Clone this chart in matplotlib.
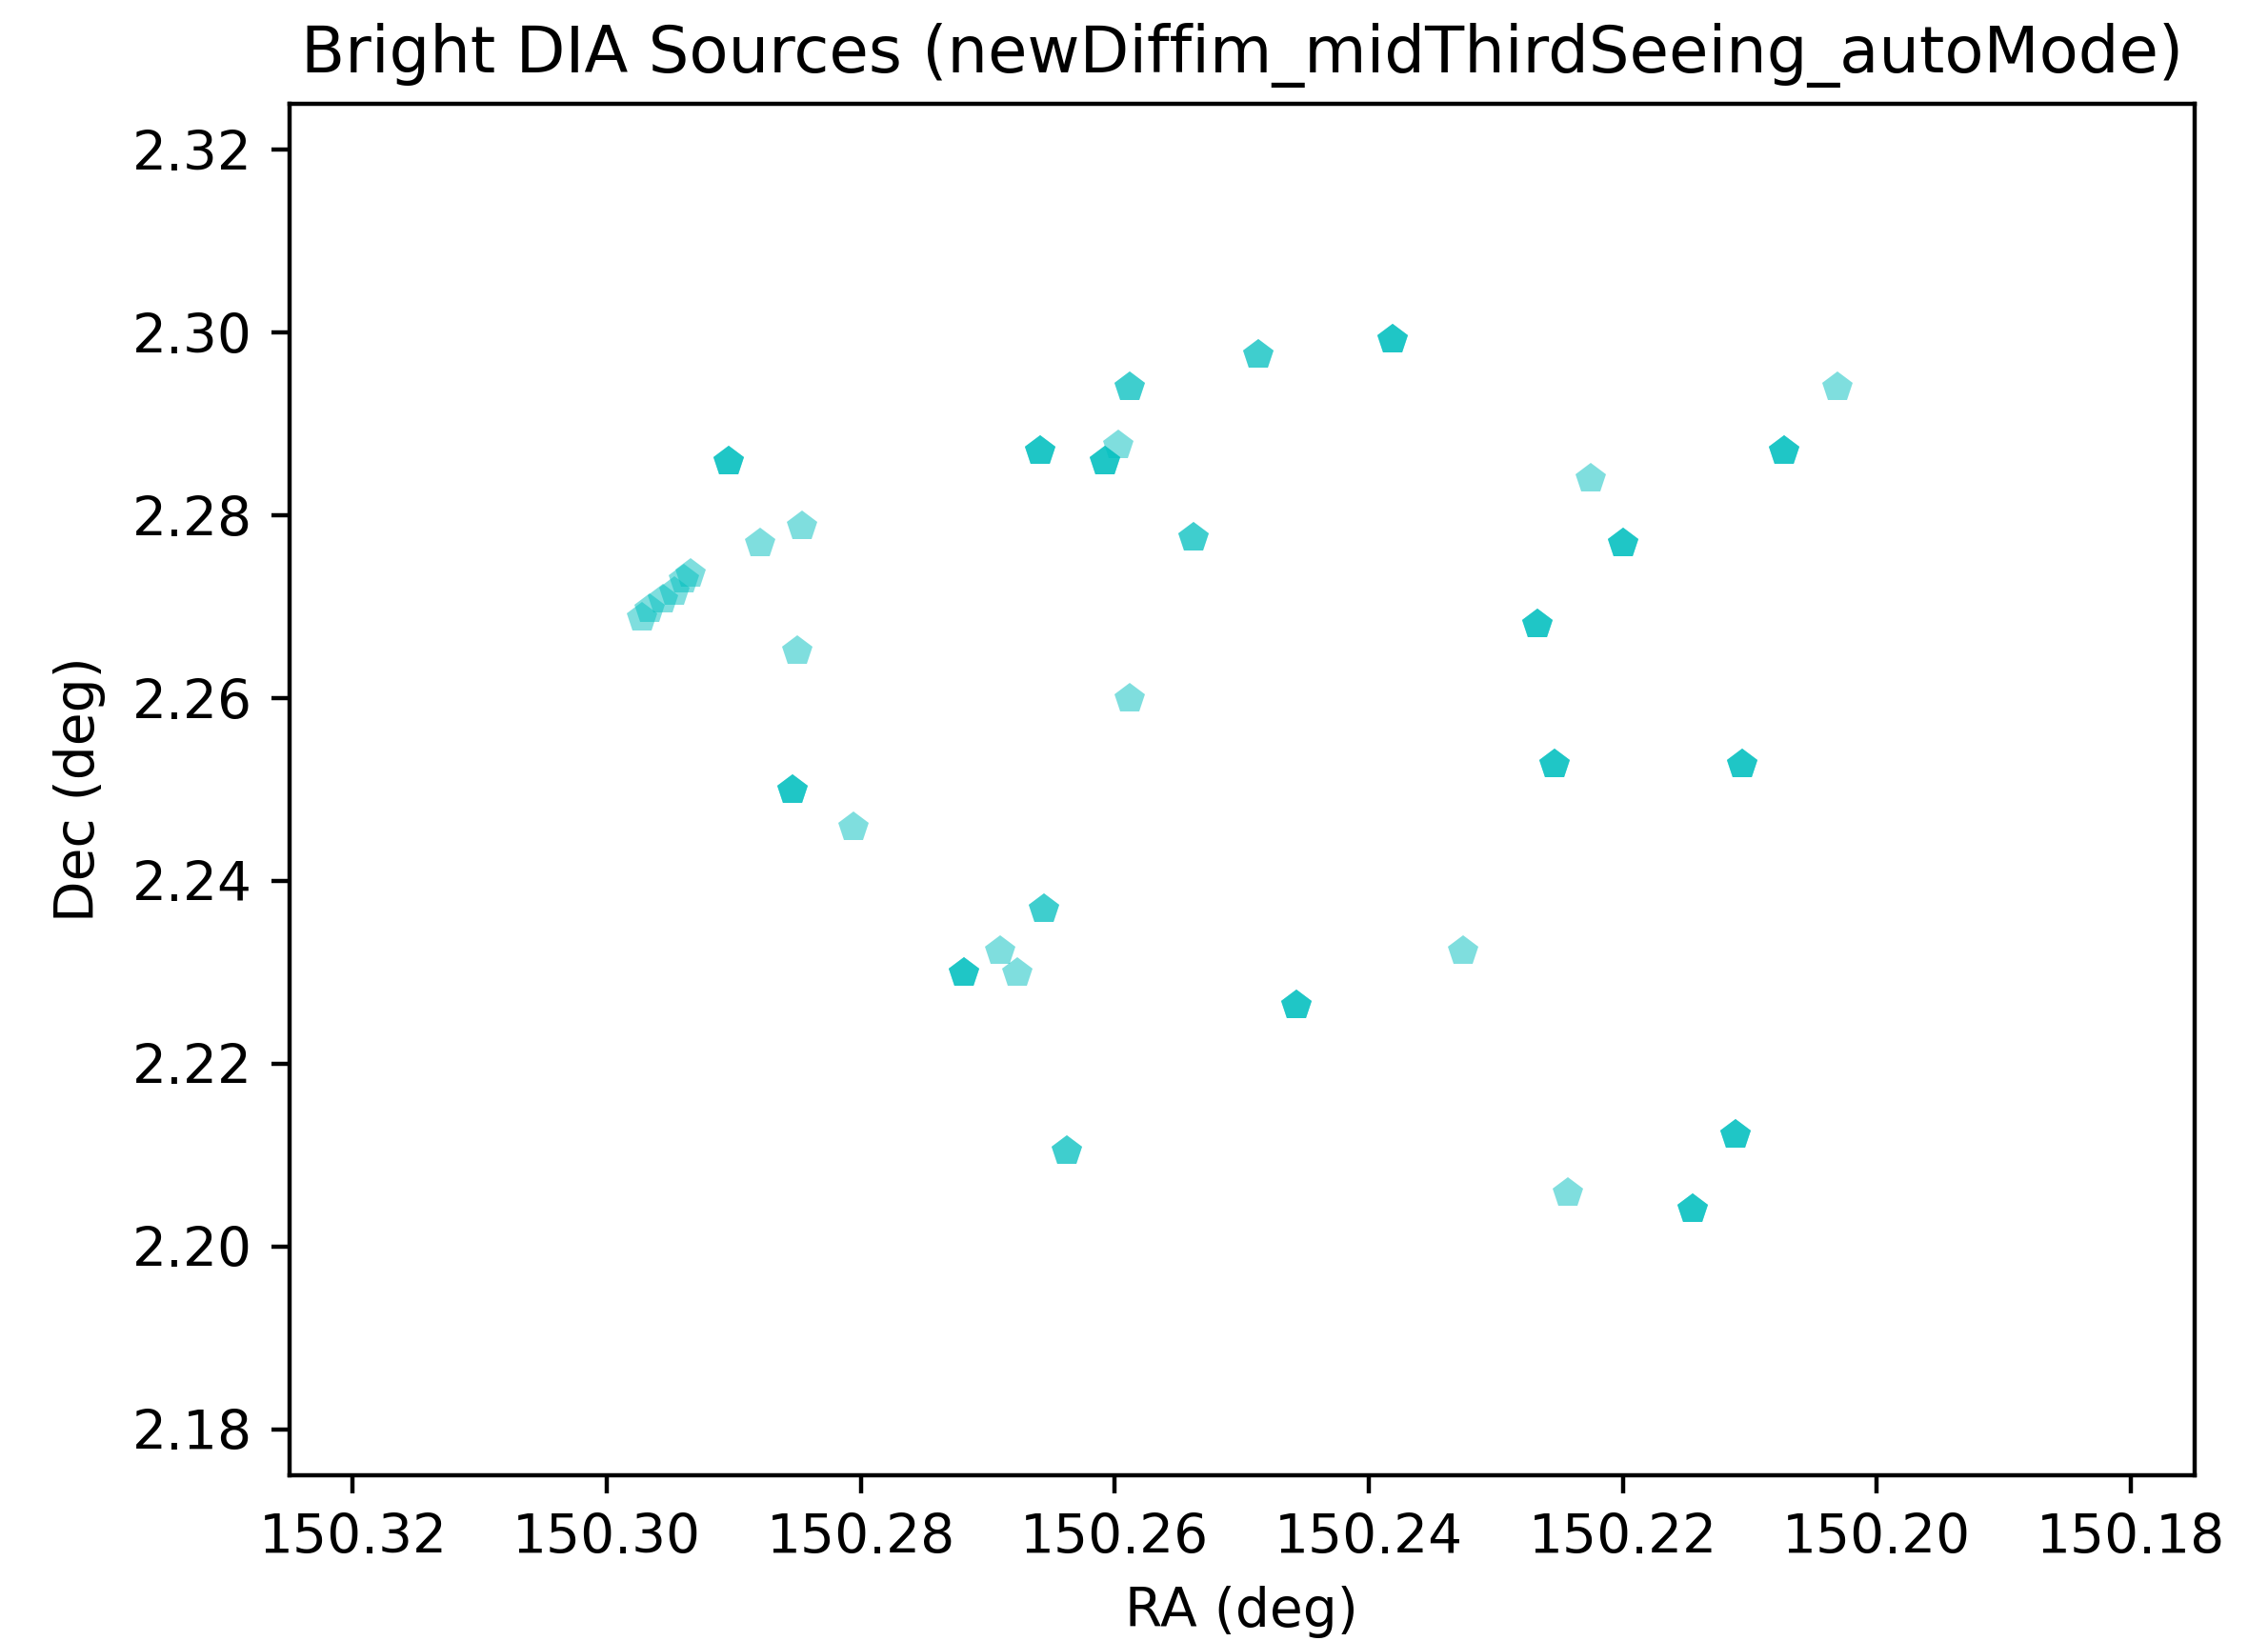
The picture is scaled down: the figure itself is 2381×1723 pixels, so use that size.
import matplotlib
matplotlib.use("Agg")
import matplotlib.pyplot as plt
import numpy as np

# bright DIA sources: position and number of repeat detections at that spot
ra = [150.2904, 150.2879, 150.2846,
      150.2972, 150.2966, 150.2956, 150.2947, 150.2939, 150.2934,
      150.2850, 150.2854, 150.2806, 150.2659, 150.2608, 150.2597,
      150.2588, 150.2588, 150.2538, 150.2487, 150.2381, 150.2656,
      150.2719, 150.2690, 150.2677, 150.2638, 150.2457, 150.2326,
      150.2267, 150.2254, 150.2225, 150.2200, 150.2106, 150.2073,
      150.2031, 150.2111, 150.2145, 150.2243]
dec = [2.2858, 2.2769, 2.2788,
       2.2688, 2.2697, 2.2707, 2.2716, 2.2729, 2.2735,
       2.2651, 2.2499, 2.2458, 2.2870, 2.2858, 2.2876,
       2.2940, 2.2599, 2.2775, 2.2975, 2.2992, 2.2369,
       2.2299, 2.2323, 2.2299, 2.2104, 2.2264, 2.2323,
       2.2680, 2.2527, 2.2840, 2.2769, 2.2527, 2.2870,
       2.2940, 2.2122, 2.2041, 2.2058]
n_det = [3, 1, 1,
         1, 1, 1, 1, 1, 1,
         1, 3, 1, 3, 3, 1,
         2, 1, 2, 2, 3, 2,
         3, 1, 1, 2, 3, 1,
         3, 3, 1, 3, 3, 3,
         1, 3, 3, 1]

ra_all = np.repeat(ra, n_det)
dec_all = np.repeat(dec, n_det)

plt.rcParams["font.size"] = 10.2

fig = plt.figure(figsize=(2381 / 400, 1723 / 400), dpi=400)
ax = fig.add_axes([0.1276, 0.1011, 0.8399, 0.8355])
ax.plot(ra_all, dec_all, "cp", alpha=0.5, markersize=6.0,
        markeredgecolor="none", linestyle="none")

ax.set_xlim(150.325, 150.175)
ax.set_ylim(2.175, 2.325)
ax.set_xticks(np.arange(150.18, 150.3201, 0.02))
ax.set_yticks(np.arange(2.18, 2.3201, 0.02))
ax.set_xlabel("RA (deg)")
ax.set_ylabel("Dec (deg)", labelpad=5)
ax.set_title("Bright DIA Sources (newDiffim_midThirdSeeing_autoMode)", fontsize=12.1)

fig.savefig("out.png", dpi=400)
